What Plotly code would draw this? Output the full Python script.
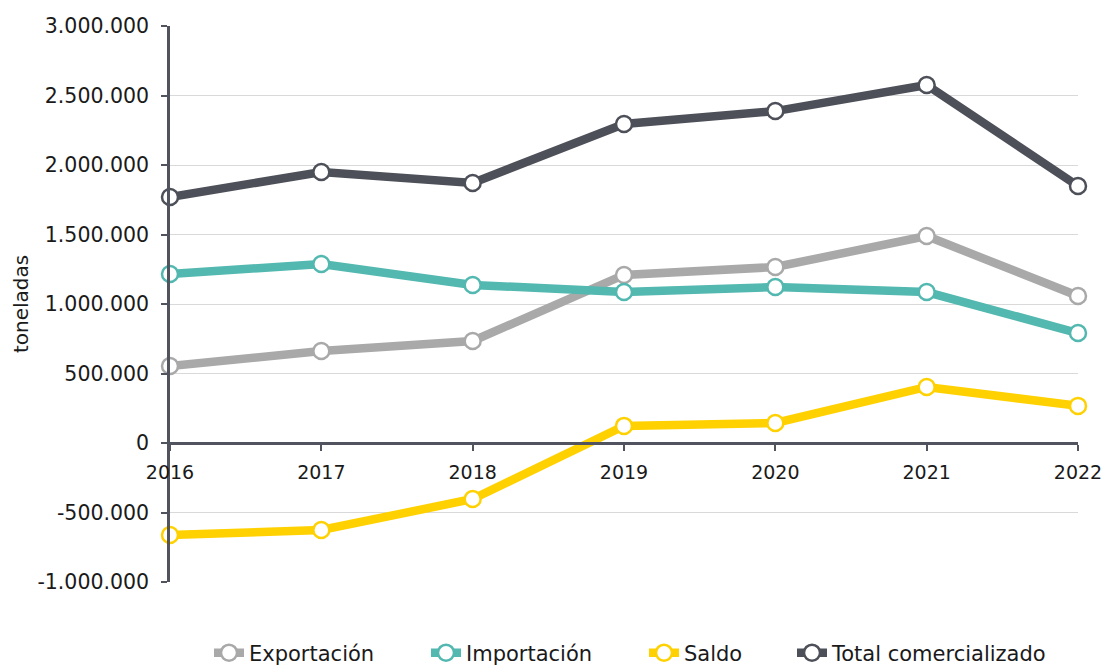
import plotly.graph_objects as go

years = [2016, 2017, 2018, 2019, 2020, 2021, 2022]
exportacion = [554000, 662000, 734000, 1209000, 1266000, 1489000, 1058000]
importacion = [1216000, 1288000, 1137000, 1086000, 1122000, 1086000, 791000]
saldo = [-662000, -626000, -403000, 123000, 144000, 403000, 267000]
total = [1770000, 1950000, 1871000, 2295000, 2388000, 2575000, 1849000]

y_tickvals = [-1000000, -500000, 0, 500000, 1000000, 1500000, 2000000, 2500000, 3000000]
y_ticktext = ["-1.000.000", "-500.000", "0", "500.000", "1.000.000", "1.500.000",
              "2.000.000", "2.500.000", "3.000.000"]

series = [
    ("Exportación", exportacion, "#A9A9A9"),
    ("Importación", importacion, "#52B8B0"),
    ("Saldo", saldo, "#FFD100"),
    ("Total comercializado", total, "#4D5059"),
]
legend_ids = ["legend", "legend2", "legend3", "legend4"]
legend_x = [209, 426, 644, 792]  # left edge of each legend entry, px

FONT = "DejaVu Sans"
AXIS_COL = "#51545E"
W, H = 1106, 666
fig = go.Figure()
for (name, vals, col), lid in zip(series, legend_ids):
    fig.add_trace(go.Scatter(
        x=years, y=vals, name=name, mode="lines+markers",
        line=dict(color=col, width=8.5),
        marker=dict(size=16, color="white", line=dict(color=col, width=2.5)),
        cliponaxis=False, legend=lid,
    ))

legends = {}
for lid, lx in zip(legend_ids, legend_x):
    legends[lid] = dict(orientation="h", xref="container", x=lx / W, xanchor="left",
                        yref="container", y=(H - 653) / H, yanchor="middle",
                        font=dict(size=21), bgcolor="rgba(0,0,0,0)")

fig.update_layout(
    width=W, height=H,
    margin=dict(l=170, r=28, t=26, b=84),
    paper_bgcolor="white", plot_bgcolor="white",
    font=dict(family=FONT, size=20, color="#1a1a1a"),
    showlegend=True,
    xaxis=dict(
        range=[2016, 2022], tickvals=years, ticktext=[str(y) for y in years],
        showgrid=False, zeroline=False, showline=True, linecolor=AXIS_COL, linewidth=2.5,
        ticks="outside", ticklen=6, tickwidth=2, tickcolor=AXIS_COL,
        anchor="free", position=0.25, tickfont=dict(size=19),
        ticklabelstandoff=5, automargin=False,
    ),
    yaxis=dict(
        range=[-1000000, 3000000], tickvals=y_tickvals, ticktext=y_ticktext,
        showgrid=True, gridcolor="#D9D9D9", gridwidth=1, zeroline=False,
        showline=True, linecolor=AXIS_COL, linewidth=2.5,
        ticks="outside", ticklen=6, tickwidth=2, tickcolor=AXIS_COL,
        ticklabelstandoff=8, tickfont=dict(size=20.5), automargin=False,
        title=dict(text="toneladas", font=dict(size=20), standoff=4),
    ),
    **legends,
)

# remove the default 8px page margin so the figure fills the window exactly
fig.write_html("out.html", config={"displayModeBar": False},
               post_script="document.body.style.margin='0';")
